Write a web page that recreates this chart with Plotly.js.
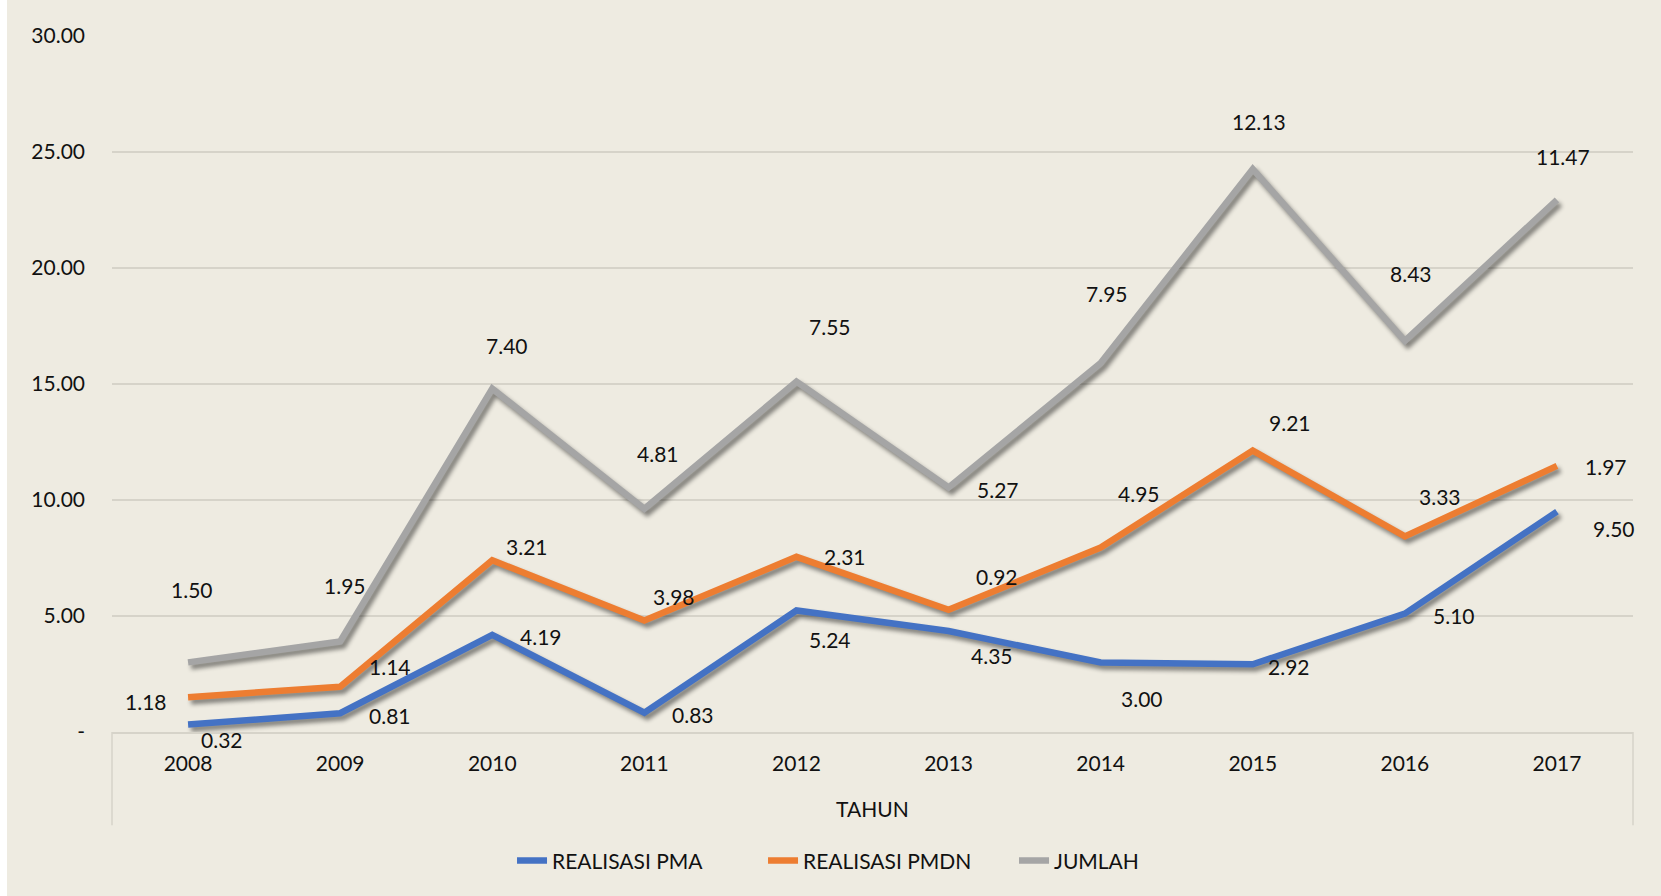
<!DOCTYPE html>
<html>
<head>
<meta charset="utf-8">
<script src="https://cdn.plot.ly/plotly-3.0.1.min.js"></script>
<style>
  html, body { margin: 0; padding: 0; background: #ffffff; }
  #chart { position: absolute; left: 7px; top: 0; width: 1654px; height: 896px; }
  .scatterlayer .js-line { filter: drop-shadow(3px 4px 2px rgba(0,0,0,0.45)); }
</style>
</head>
<body>
<div id="chart"></div>
<script>
// ---- data ----
const years = ['2008','2009','2010','2011','2012','2013','2014','2015','2016','2017'];
const realisasiPMA  = [0.32, 0.81, 4.19, 0.83, 5.24, 4.35, 3.00, 2.92, 5.10, 9.50];
const realisasiPMDN = [1.18, 1.14, 3.21, 3.98, 2.31, 0.92, 4.95, 9.21, 3.33, 1.97];
const jumlah        = [1.50, 1.95, 7.40, 4.81, 7.55, 5.27, 7.95, 12.13, 8.43, 11.47];
const yTickVals  = [0, 5, 10, 15, 20, 25, 30];
const yTickText  = ['-', '5.00', '10.00', '15.00', '20.00', '25.00', '30.00'];

// ---- label offsets (pixels) ----
const pmaDx  = [34, 50, 49, 49, 34, 43, 41, 36, 49, 57];
const pmaDy  = [15, 2, 2, 2, 29, 24, 36, 2, 2, 17];
const pmdnDx = [-42, 50, 35, 30, 49, 48, 38, 37, 35, 49];
const pmdnDy = [4, -20, -14, -24, 0, -33, -54, -28, -40, 1];
const jumDx  = [4, 5, 15, 14, 34, 49, 6, 6, 6, 6];
const jumDy  = [-73, -56, -43, -55, -55, 2, -70, -48, -67, -43];

const series = [
  {name: 'REALISASI PMA',  vals: realisasiPMA,  color: '#4472C4', dx: pmaDx,  dy: pmaDy},
  {name: 'REALISASI PMDN', vals: realisasiPMDN, color: '#ED7D31', dx: pmdnDx, dy: pmdnDy},
  {name: 'JUMLAH',         vals: jumlah,        color: '#A5A5A5', dx: jumDx,  dy: jumDy}
];

const FONT = 'Lato, "Open Sans", sans-serif';
const traces = [];
const annotations = [];
const cum = years.map(() => 0);
series.forEach(s => {
  traces.push({
    type: 'scatter', mode: 'lines', name: s.name,
    x: years, y: s.vals, stackgroup: 'one', fill: 'none',
    line: {color: s.color, width: 6.5},
    hoverinfo: 'skip'
  });
  s.vals.forEach((v, i) => {
    cum[i] += v;
    annotations.push({
      xref: 'x', yref: 'y', x: i, y: cum[i],
      text: v.toFixed(2), showarrow: false,
      xshift: s.dx[i], yshift: -s.dy[i],
      font: {family: FONT, size: 21, color: '#111111'}
    });
  });
});

annotations.push({
  xref: 'paper', yref: 'paper', x: 0.5, y: -0.11, yanchor: 'middle',
  text: 'TAHUN', showarrow: false,
  font: {family: FONT, size: 21, color: '#111111'}
});

const layout = {
  width: 1654, height: 896,
  margin: {l: 105, r: 28, t: 36, b: 164},
  paper_bgcolor: '#EEEBE1', plot_bgcolor: '#EEEBE1',
  showlegend: true,
  legend: {
    orientation: 'h', x: 0.263, xanchor: 'left', y: -0.185, yanchor: 'middle',
    font: {family: FONT, size: 21, color: '#111111'},
    traceorder: 'normal', entrywidth: 206, entrywidthmode: 'pixels',
    bgcolor: 'rgba(0,0,0,0)'
  },
  xaxis: {
    type: 'category', range: [-0.5, 9.5],
    showgrid: false, zeroline: false,
    showline: true, linecolor: '#D6D3C9', linewidth: 1.5,
    ticks: '', tickfont: {family: FONT, size: 21, color: '#111111'},
    ticklabelstandoff: 12
  },
  yaxis: {
    range: [0, 30], tickvals: yTickVals, ticktext: yTickText,
    showgrid: true, gridcolor: '#D6D3C9', gridwidth: 1.5,
    zeroline: false, showline: false, ticks: '',
    tickfont: {family: FONT, size: 21, color: '#111111'},
    ticklabelstandoff: 26
  },
  shapes: [
    {type: 'line', xref: 'paper', yref: 'paper', x0: 0, x1: 0, y0: 0, y1: -0.134,
     line: {color: '#D6D3C9', width: 1.5}},
    {type: 'line', xref: 'paper', yref: 'paper', x0: 1, x1: 1, y0: 0, y1: -0.134,
     line: {color: '#D6D3C9', width: 1.5}}
  ],
  annotations: annotations
};

Plotly.newPlot('chart', traces, layout, {displayModeBar: false, staticPlot: true});
</script>
</body>
</html>
